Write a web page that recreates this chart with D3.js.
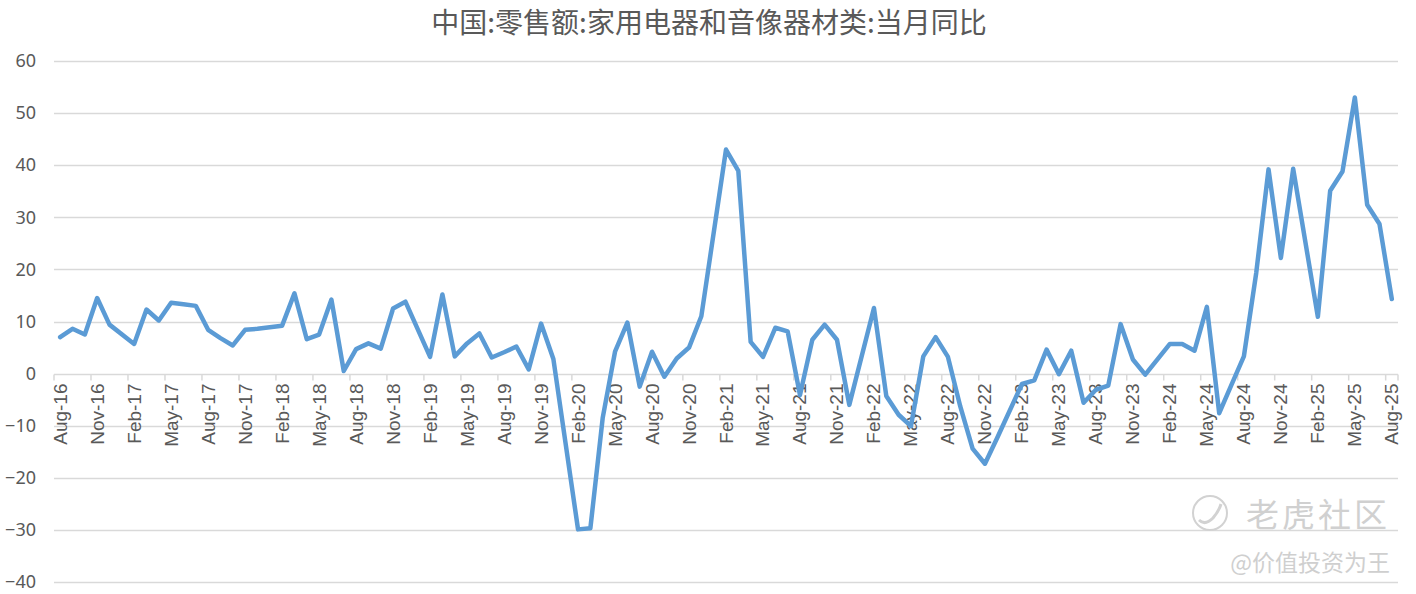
<!DOCTYPE html>
<html>
<head>
<meta charset="utf-8">
<script src="https://cdn.jsdelivr.net/npm/d3@7"></script>
<style>
  html, body { margin: 0; padding: 0; background: #fff; }
  svg { display: block; }
</style>
</head>
<body>
<div id="chart"></div>
<script>
// 中国:零售额:家用电器和音像器材类:当月同比 (%), Aug-16 .. Aug-25, Jan not published (null)
const title = "中国:零售额:家用电器和音像器材类:当月同比";
const startMonth = new Date(2016, 7, 1);
const endMonth = new Date(2025, 7, 1);

const values = [
  // 2016 Aug-Dec
  7.0, 8.6, 7.5, 14.5, 9.4,
  // 2017
  null, 5.7, 12.3, 10.2, 13.6, 13.3, 13.0, 8.4, 6.8, 5.4, 8.4, 8.6,
  // 2018
  null, 9.2, 15.4, 6.6, 7.5, 14.2, 0.5, 4.7, 5.8, 4.8, 12.5, 13.8,
  // 2019
  null, 3.2, 15.2, 3.3, 5.8, 7.7, 3.1, 4.1, 5.2, 0.8, 9.6, 2.8,
  // 2020
  null, -29.9, -29.7, -8.5, 4.2, 9.8, -2.5, 4.2, -0.6, 2.9, 5.0, 11.0,
  // 2021
  null, 43.0, 38.9, 6.1, 3.2, 8.8, 8.1, -4.1, 6.5, 9.4, 6.5, -6.0,
  // 2022
  null, 12.6, -4.3, -7.9, -10.1, 3.3, 7.0, 3.2, -6.3, -14.4, -17.3, -12.3,
  // 2023
  null, -2.0, -1.3, 4.6, -0.1, 4.4, -5.6, -3.1, -2.3, 9.5, 2.7, -0.2,
  // 2024
  null, 5.7, 5.7, 4.4, 12.8, -7.6, -2.1, 3.3, 19.3, 39.2, 22.2, 39.3,
  // 2025 Jan-Aug
  null, 10.9, 35.1, 38.8, 53.0, 32.4, 28.7, 14.3
];

const yTicks = [-40, -30, -20, -10, 0, 10, 20, 30, 40, 50, 60];
const labelEvery = 3;

const fmt = d3.timeFormat("%b-%y");
const categories = d3.timeMonth.range(startMonth, d3.timeMonth.offset(endMonth, 1)).map(fmt);
const data = categories.map((c, i) => ({ cat: c, i: i, v: values[i] }));

const width = 1416, height = 594;
const textColor = "#595959";
const gridColor = "#d9d9d9";

const svg = d3.select("#chart").append("svg")
  .attr("width", width)
  .attr("height", height)
  .attr("viewBox", `0 0 ${width} ${height}`);

const x = d3.scaleBand()
  .domain(data.map(d => d.i))
  .range([54, 1398])
  .paddingInner(0).paddingOuter(0);

const y = d3.scaleLinear()
  .domain([-40, 60])
  .range([582, 61]);

// title
svg.append("text")
  .attr("x", 709)
  .attr("y", 33)
  .attr("text-anchor", "middle")
  .attr("font-family", "'Noto Sans CJK SC', sans-serif")
  .attr("font-size", 28)
  .attr("fill", textColor)
  .text(title);

// horizontal gridlines
svg.append("g")
  .selectAll("line")
  .data(yTicks)
  .join("line")
    .attr("x1", 54)
    .attr("x2", 1398)
    .attr("y1", d => Math.round(y(d)) + 0.5)
    .attr("y2", d => Math.round(y(d)) + 0.5)
    .attr("stroke", gridColor)
    .attr("stroke-width", 1.5);

// y axis labels
const yAxis = d3.axisLeft(y).tickValues(yTicks).tickSize(0).tickPadding(0);
const gy = svg.append("g")
  .attr("transform", "translate(36,0)")
  .call(yAxis);
gy.select(".domain").remove();
gy.selectAll("text")
  .attr("font-family", "'Noto Sans', sans-serif")
  .attr("font-size", 18)
  .attr("fill", textColor);

// x axis at zero: ticks between categories every 3 months
const tickIdx = data.filter(d => d.i % labelEvery === 0).map(d => d.i);
const gx = svg.append("g").attr("transform", `translate(0,${Math.round(y(0)) + 0.5})`);
gx.selectAll("line.tick")
  .data(tickIdx.concat([data.length]))
  .join("line")
    .attr("class", "tick")
    .attr("x1", d => d < data.length ? x(d) : x.range()[1])
    .attr("x2", d => d < data.length ? x(d) : x.range()[1])
    .attr("y1", 0)
    .attr("y2", 6)
    .attr("stroke", gridColor)
    .attr("stroke-width", 1.5);

gx.selectAll("text")
  .data(tickIdx)
  .join("text")
    .attr("transform", d => `translate(${x(d) + x.bandwidth() / 2 + 6.5},9) rotate(-90)`)
    .attr("text-anchor", "end")
    .attr("font-family", "'Liberation Sans', Arial, sans-serif")
    .attr("font-size", 19)
    .attr("fill", textColor)
    .text(d => categories[d]);

// line (January gaps connected)
const line = d3.line()
  .x(d => x(d.i) + x.bandwidth() / 2)
  .y(d => y(d.v));

svg.append("path")
  .datum(data.filter(d => d.v !== null))
  .attr("d", line)
  .attr("fill", "none")
  .attr("stroke", "#5b9bd5")
  .attr("stroke-width", 4.5)
  .attr("stroke-linejoin", "round")
  .attr("stroke-linecap", "round");

// watermark
const wm = svg.append("g").attr("fill", "none").attr("stroke", "#d2d2d2");
wm.append("circle")
  .attr("cx", 1210).attr("cy", 513).attr("r", 17)
  .attr("stroke-width", 2);
wm.append("path")
  .attr("d", "M1199,520 q6,6 14,-2 q6,-7 8,-14")
  .attr("stroke-width", 3);
svg.append("text")
  .attr("x", 1390).attr("y", 527)
  .attr("text-anchor", "end")
  .attr("font-family", "'Noto Sans CJK SC', sans-serif")
  .attr("font-size", 33)
  .attr("fill", "#d0d0d0")
  .attr("letter-spacing", 3)
  .text("老虎社区");
svg.append("text")
  .attr("x", 1390).attr("y", 571)
  .attr("text-anchor", "end")
  .attr("font-family", "'Noto Sans CJK SC', sans-serif")
  .attr("font-size", 23)
  .attr("fill", "#cfcfcf")
  .text("@价值投资为王");
</script>
</body>
</html>
